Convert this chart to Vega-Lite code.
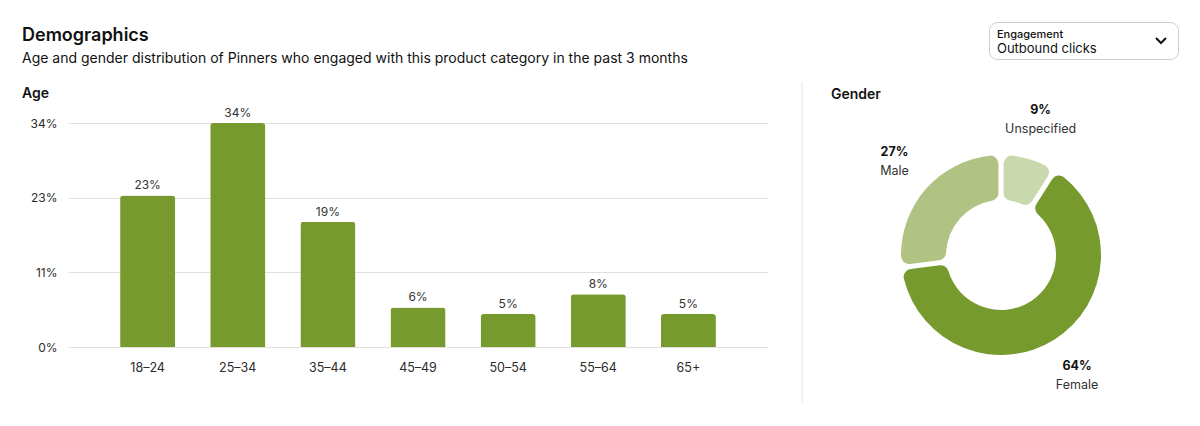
{
  "$schema": "https://vega.github.io/schema/vega-lite/v6.json",
  "background": "white",
  "padding": {"left": 22, "top": 21, "right": 20, "bottom": 8},
  "config": {
    "font": "Inter",
    "view": {"stroke": null},
    "title": {"anchor": "start", "color": "#111111", "font": "Inter", "subtitleFont": "Inter"},
    "axis": {"labelFont": "Inter", "labelColor": "#2b2b2b", "labelFontSize": 12.5}
  },
  "datasets": {
    "age": [
      {"ageGroup": "18–24", "share": 0.23},
      {"ageGroup": "25–34", "share": 0.34},
      {"ageGroup": "35–44", "share": 0.19},
      {"ageGroup": "45–49", "share": 0.06},
      {"ageGroup": "50–54", "share": 0.05},
      {"ageGroup": "55–64", "share": 0.08},
      {"ageGroup": "65+", "share": 0.05}
    ],
    "gender": [
      {"gender": "Female", "share": 0.64},
      {"gender": "Male", "share": 0.27},
      {"gender": "Unspecified", "share": 0.09}
    ],
    "blank": [],
    "divider": [{"panel": "Gender"}],
    "control": [{"heading": "Engagement", "metric": "Outbound clicks"}]
  },
  "spacing": 15,
  "vconcat": [
    {
      "spacing": 20,
      "hconcat": [
        {
          "width": 900,
          "height": 1,
          "data": {"name": "blank"},
          "title": {
            "text": "Demographics",
            "subtitle": "Age and gender distribution of Pinners who engaged with this product category in the past 3 months",
            "orient": "bottom",
            "anchor": "start",
            "offset": 4,
            "dx": -46,
            "fontSize": 18,
            "fontWeight": 600,
            "subtitleFontSize": 14,
            "subtitleColor": "#111111",
            "subtitlePadding": 7
          },
          "mark": {"type": "rect", "opacity": 0},
          "encoding": {}
        },
        {
          "width": 189,
          "height": 37,
          "view": {"stroke": "#cccccc", "strokeWidth": 1, "cornerRadius": 8},
          "data": {"name": "control"},
          "encoding": {
            "x": {"datum": 0.042, "type": "quantitative", "scale": {"domain": [0, 1]}, "axis": null}
          },
          "layer": [
            {
              "mark": {"type": "text", "align": "left", "baseline": "middle", "fontSize": 11, "fontWeight": 500, "color": "#111111"},
              "encoding": {
                "y": {"datum": 0.66, "type": "quantitative", "scale": {"domain": [0, 1]}, "axis": null},
                "text": {"field": "heading"}
              }
            },
            {
              "mark": {"type": "text", "align": "left", "baseline": "middle", "fontSize": 13, "color": "#111111"},
              "encoding": {
                "y": {"datum": 0.28, "type": "quantitative"},
                "text": {"field": "metric"}
              }
            },
            {
              "mark": {"type": "point", "shape": "M-1,-0.5L0,0.5L1,-0.5", "size": 100, "filled": false, "stroke": "#111111", "strokeWidth": 2, "opacity": 1},
              "encoding": {
                "x": {"datum": 0.91, "type": "quantitative"},
                "y": {"datum": 0.5, "type": "quantitative"}
              }
            }
          ]
        }
      ]
    },
    {
      "spacing": 33,
      "hconcat": [
        {
          "width": 700,
          "height": 224,
          "data": {"name": "age"},
          "title": {"text": "Age", "fontSize": 14, "fontWeight": 600, "anchor": "start", "frame": "bounds", "dx": -8, "offset": 6},
          "encoding": {
            "x": {
              "field": "ageGroup",
              "type": "ordinal",
              "sort": null,
              "scale": {"paddingInner": 0.389, "paddingOuter": 0.578},
              "axis": {"title": null, "labelAngle": 0, "domain": false, "ticks": false, "grid": false, "labelPadding": 14}
            },
            "y": {
              "field": "share",
              "type": "quantitative",
              "scale": {"domain": [0, 0.34], "nice": false},
              "axis": {
                "title": null,
                "values": [0, 0.113333, 0.226667, 0.34],
                "format": ".0%",
                "domain": false,
                "ticks": false,
                "labelFontSize": 12,
                "labelPadding": 11,
                "gridColor": "#e1e0db",
                "gridWidth": 1
              }
            }
          },
          "layer": [
            {"mark": {"type": "bar", "color": "#769a2d", "cornerRadiusTopLeft": 3, "cornerRadiusTopRight": 3}},
            {
              "mark": {"type": "text", "baseline": "alphabetic", "dy": -6, "fontSize": 12, "color": "#333333"},
              "encoding": {"text": {"field": "share", "type": "quantitative", "format": ".0%"}}
            }
          ]
        },
        {
          "spacing": 28,
          "hconcat": [
            {
              "width": 1,
              "height": 264,
              "data": {"name": "divider"},
              "mark": {"type": "rule", "color": "#e4e4e4", "strokeWidth": 1},
              "encoding": {
                "x": {"datum": 0, "type": "quantitative", "scale": {"domain": [0, 1]}, "axis": null},
                "y": {"datum": 0, "type": "quantitative", "scale": {"domain": [0, 1], "range": [-41, 280]}, "axis": null},
                "y2": {"datum": 1}
              }
            },
            {
              "width": 340,
              "height": 264,
              "data": {"name": "gender"},
              "title": {"text": "Gender", "fontSize": 14, "fontWeight": 600, "anchor": "start", "offset": 2},
              "encoding": {
                "theta": {"field": "share", "type": "quantitative", "stack": true, "scale": {"range": [0.5655, 6.8487]}},
                "order": {"field": "gender", "type": "nominal", "sort": "ascending"}
              },
              "layer": [
                {
                  "mark": {"type": "arc", "innerRadius": 55, "outerRadius": 100, "padAngle": 0.045, "cornerRadius": 8},
                  "encoding": {
                    "color": {
                      "field": "gender",
                      "type": "nominal",
                      "scale": {"domain": ["Female", "Male", "Unspecified"], "range": ["#769a2d", "#b0c383", "#cad8ad"]},
                      "legend": null
                    }
                  }
                },
                {
                  "mark": {"type": "text", "radius": 142, "dy": -9, "fontSize": 12.5, "fontWeight": 700, "color": "#111111"},
                  "encoding": {
                    "detail": {"field": "gender", "type": "nominal"},
                    "text": {"field": "share", "type": "quantitative", "format": ".0%"}
                  }
                },
                {
                  "mark": {"type": "text", "radius": 142, "dy": 10, "fontSize": 12.5, "color": "#333333"},
                  "encoding": {
                    "detail": {"field": "gender", "type": "nominal"},
                    "text": {"field": "gender", "type": "nominal"}
                  }
                }
              ]
            }
          ]
        }
      ]
    }
  ]
}
